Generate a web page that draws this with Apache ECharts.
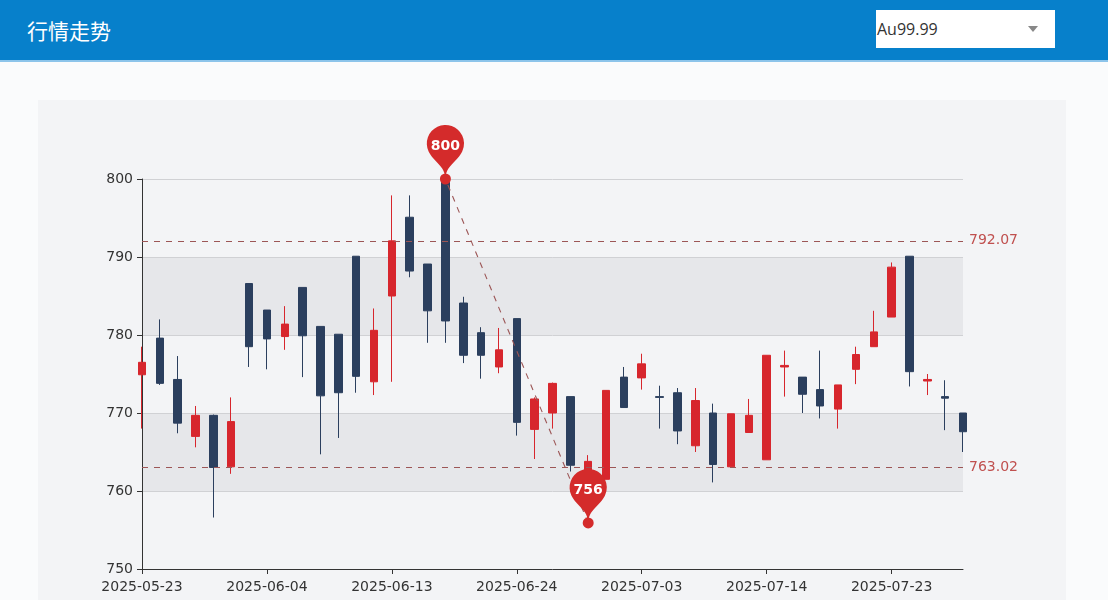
<!DOCTYPE html>
<html>
<head>
<meta charset="utf-8">
<script src="https://cdn.jsdelivr.net/npm/echarts@6/dist/echarts.min.js"></script>
<style>
  html, body { margin: 0; padding: 0; width: 1108px; height: 600px; overflow: hidden; background: #fafbfc; }
  #header { position: absolute; left: 0; top: 0; width: 1108px; height: 60px; background: #0780cb; border-bottom: 2px solid #8cc4ea; }
  #title { position: absolute; left: 27px; top: 14px; color: #ffffff; font-family: "Noto Sans CJK SC", sans-serif; font-size: 21px; line-height: 32px; }
  #select { position: absolute; left: 876px; top: 10px; width: 179px; height: 38px; background: #ffffff; }
  #selText { position: absolute; left: 1px; top: 8px; font-family: "Open Sans", "DejaVu Sans", sans-serif; font-size: 16px; color: #333; line-height: 22px; }
  #selArrow { position: absolute; left: 152px; top: 16px; width: 0; height: 0; border-left: 5px solid transparent; border-right: 5px solid transparent; border-top: 6px solid #888; }
  #panel { position: absolute; left: 38px; top: 100px; width: 1028px; height: 500px; background: #f3f4f6; }
  #chart { position: absolute; left: 0; top: 0; width: 1108px; height: 600px; }
</style>
</head>
<body>
<div id="header"><div id="title">行情走势</div>
  <div id="select"><div id="selText">Au99.99</div><div id="selArrow"></div></div>
</div>
<div id="panel"></div>
<div id="chart"></div>
<script>
const dates = [
  '2025-05-23','2025-05-26','2025-05-27','2025-05-28','2025-05-29','2025-05-30','2025-06-03','2025-06-04',
  '2025-06-05','2025-06-06','2025-06-09','2025-06-10','2025-06-11','2025-06-12','2025-06-13',
  '2025-06-16','2025-06-17','2025-06-18','2025-06-19','2025-06-20','2025-06-23','2025-06-24',
  '2025-06-25','2025-06-26','2025-06-27','2025-06-30','2025-07-01','2025-07-02','2025-07-03',
  '2025-07-04','2025-07-07','2025-07-08','2025-07-09','2025-07-10','2025-07-11','2025-07-14',
  '2025-07-15','2025-07-16','2025-07-17','2025-07-18','2025-07-21','2025-07-22','2025-07-23',
  '2025-07-24','2025-07-25','2025-07-28','2025-07-29'
];
const openPrices = [
  774.9, 779.6, 774.3, 767.0, 769.7, 763.1, 786.6, 783.2, 779.8, 786.1,
  781.1, 780.1, 790.1, 774.0, 785.0, 795.1, 789.1, 799.8, 784.1, 780.3,
  775.9, 782.1, 767.9, 770.0, 772.1, 762.0, 761.5, 774.6, 774.5, 772.1,
  772.6, 765.8, 770.0, 763.1, 767.5, 764.0, 775.9, 774.6, 773.0, 770.5,
  775.6, 778.5, 782.3, 790.1, 774.1, 772.1, 770.0
];
const closePrices = [
  776.5, 773.8, 768.7, 769.7, 763.02, 768.9, 778.5, 779.5, 781.4, 779.9,
  772.2, 772.6, 774.7, 780.6, 792.07, 788.2, 783.1, 781.8, 777.4, 777.4,
  778.1, 768.8, 771.8, 773.8, 763.3, 763.8, 772.9, 770.7, 776.3, 772.0,
  767.7, 771.6, 763.4, 769.9, 769.7, 777.4, 776.1, 772.4, 770.9, 773.6,
  777.5, 780.4, 788.7, 775.3, 774.3, 771.9, 767.6
];
const lowPrices = [
  768.0, 773.6, 767.4, 765.6, 756.6, 762.2, 775.9, 775.6, 778.1, 774.6,
  764.7, 766.8, 772.6, 772.3, 774.0, 787.4, 779.0, 779.0, 776.4, 774.4,
  775.1, 767.1, 764.1, 768.0, 762.5, 755.9, 761.5, 770.7, 773.0, 768.0,
  766.0, 765.0, 761.1, 763.1, 767.5, 764.0, 772.1, 770.0, 769.3, 768.0,
  773.7, 778.5, 782.3, 773.4, 772.3, 767.8, 765.0
];
const highPrices = [
  778.5, 782.0, 777.3, 770.9, 769.8, 772.0, 786.6, 783.2, 783.7, 786.1,
  781.1, 780.1, 790.1, 783.4, 797.9, 797.9, 789.1, 800.0, 784.9, 781.0,
  780.9, 782.1, 772.0, 773.9, 772.1, 764.6, 772.9, 775.9, 777.6, 773.5,
  773.2, 773.2, 771.2, 769.9, 771.8, 777.4, 778.0, 774.6, 778.0, 773.6,
  778.5, 783.1, 789.3, 790.1, 775.0, 774.2, 770.0
];
const yTicks = [750, 760, 770, 780, 790, 800];

const upColor = '#d7262d';
const downColor = '#2b3f5e';
const markColor = '#d42b2b';

const candleData = dates.map((d, i) => [openPrices[i], closePrices[i], lowPrices[i], highPrices[i]]);

const chart = echarts.init(document.getElementById('chart'), null, { renderer: 'canvas' });
const axisFont = 'DejaVu Sans';
const pinLabel = {
  show: true,
  color: '#fff',
  fontFamily: axisFont,
  fontWeight: 'bold',
  fontSize: 14,
  formatter: function (p) { return p != null ? Math.round(p.value) + '' : ''; }
};
chart.setOption({
  backgroundColor: 'transparent',
  animation: false,
  grid: { left: 142, right: 145, top: 179, bottom: 31, containLabel: false },
  xAxis: {
    type: 'category',
    data: dates,
    boundaryGap: false,
    axisLine: { show: true, lineStyle: { color: '#333', width: 1 } },
    axisTick: { show: true, interval: 6, length: 5, lineStyle: { color: '#333' } },
    axisLabel: { interval: 6, color: '#333', fontFamily: axisFont, fontSize: 14, margin: 11 },
    splitLine: { show: false }
  },
  yAxis: {
    type: 'value',
    min: yTicks[0],
    max: yTicks[yTicks.length - 1],
    interval: 10,
    axisLine: { show: true, lineStyle: { color: '#333', width: 1 } },
    axisTick: { show: true, length: 5, lineStyle: { color: '#333' } },
    axisLabel: { color: '#333', fontFamily: axisFont, fontSize: 14, margin: 9 },
    splitLine: { show: true, lineStyle: { color: '#d0d1d4', width: 1 } },
    splitArea: { show: true, areaStyle: { color: ['rgba(0,0,0,0)', '#e6e7ea'] } }
  },
  series: [{
    type: 'candlestick',
    data: candleData,
    barWidth: 8,
    itemStyle: {
      color: upColor,
      color0: downColor,
      borderColor: upColor,
      borderColor0: downColor,
      borderWidth: 1
    },
    markPoint: {
      symbol: 'pin',
      symbolSize: 62,
      itemStyle: { color: markColor },
      label: pinLabel,
      data: [
        { name: 'highest value', type: 'max', valueDim: 'highest' },
        { name: 'lowest value', type: 'min', valueDim: 'lowest' },
        { name: 'highest dot', type: 'max', valueDim: 'highest', symbol: 'circle', symbolSize: 11, label: { show: false } },
        { name: 'lowest dot', type: 'min', valueDim: 'lowest', symbol: 'circle', symbolSize: 11, label: { show: false } }
      ]
    },
    markLine: {
      symbol: ['none', 'none'],
      lineStyle: { color: '#9c5656', type: [6, 6], width: 1.1 },
      label: { color: '#c0504f', fontFamily: axisFont, fontSize: 14, distance: 6 },
      data: [
        [
          { name: 'from lowest to highest', type: 'min', valueDim: 'lowest', label: { show: false } },
          { type: 'max', valueDim: 'highest', label: { show: false } }
        ],
        { name: 'min line on close', type: 'min', valueDim: 'close' },
        { name: 'max line on close', type: 'max', valueDim: 'close' }
      ]
    }
  }]
});
</script>
</body>
</html>
